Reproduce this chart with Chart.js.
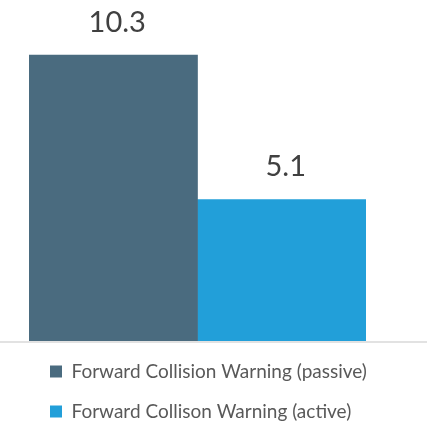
<!DOCTYPE html>
<html>
<head>
<meta charset="utf-8">
<script src="https://cdn.jsdelivr.net/npm/chart.js@4.4.0/dist/chart.umd.min.js"></script>
<style>
  html, body { margin: 0; padding: 0; background: #fff; }
  #wrap { width: 427px; height: 423px; position: relative; }
</style>
</head>
<body>
<div id="wrap"><canvas id="chart"></canvas></div>
<script>
var categories = [''];
var seriesNames = ['Forward Collision Warning (passive)', 'Forward Collison Warning (active)'];
var passiveValues = [10.3];
var activeValues = [5.1];
var seriesColors = ['#4a6b7f', '#229fd9'];

// value labels above each bar
var valueLabels = {
    id: 'valueLabels',
    afterDatasetsDraw: function (chart) {
        var ctx = chart.ctx;
        ctx.save();
        ctx.font = '29px Lato';
        ctx.fillStyle = '#404040';
        ctx.textAlign = 'center';
        ctx.textBaseline = 'alphabetic';
        chart.data.datasets.forEach(function (ds, i) {
            chart.getDatasetMeta(i).data.forEach(function (bar, j) {
                ctx.fillText(ds.data[j].toFixed(1), bar.x + 4, bar.y - 23);
            });
        });
        ctx.restore();
    }
};

// baseline across the whole width
var baseLine = {
    id: 'baseLine',
    afterDatasetsDraw: function (chart) {
        var ctx = chart.ctx;
        var y = chart.scales.y.getPixelForValue(0);
        ctx.save();
        ctx.strokeStyle = '#d9d9d9';
        ctx.lineWidth = 1.5;
        ctx.beginPath();
        ctx.moveTo(0, y + 1);
        ctx.lineTo(chart.width, y + 1);
        ctx.stroke();
        ctx.restore();
    }
};

new Chart(document.getElementById('chart'), {
    type: 'bar',
    data: {
        labels: categories,
        datasets: [{
            label: seriesNames[0],
            data: passiveValues,
            backgroundColor: seriesColors[0]
        }, {
            label: seriesNames[1],
            data: activeValues,
            backgroundColor: seriesColors[1]
        }]
    },
    options: {
        responsive: true,
        maintainAspectRatio: false,
        animation: false,
        layout: { padding: { left: 29, right: 61, top: 8, bottom: -8 } },
        datasets: { bar: { categoryPercentage: 1, barPercentage: 1 } },
        scales: {
            x: { display: false },
            y: { display: false, min: 0, max: 12 }
        },
        plugins: {
            tooltip: { enabled: false },
            legend: {
                position: 'bottom',
                align: 'start',
                labels: {
                    boxWidth: 12,
                    boxHeight: 12,
                    padding: 21,
                    color: '#595959',
                    font: { family: 'Lato', size: 19 }
                }
            }
        }
    },
    plugins: [valueLabels, baseLine]
});
</script>
</body>
</html>
